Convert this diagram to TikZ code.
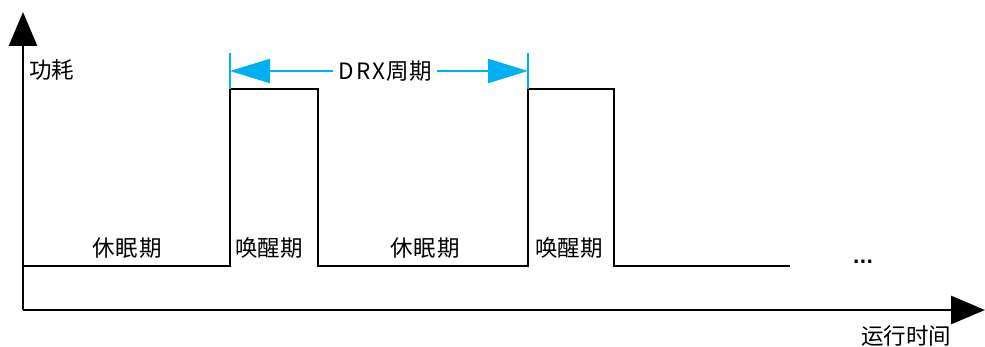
\documentclass[tikz,border=0pt]{standalone}
\usepackage{fontspec}
\setmainfont{Noto Sans CJK SC}
\newfontfamily\dvfont{DejaVu Sans}
\usetikzlibrary{arrows.meta}
\definecolor{drxblue}{HTML}{00B0F0}
\begin{document}
\begin{tikzpicture}[x=1pt,y=-1pt,
  sig/.style={line width=2.8pt,line join=miter},
  axis/.style={line width=2.8pt,-{Triangle[length=34pt,width=28pt]}},
  dim/.style={drxblue,line width=2.4pt},
  dimarrow/.style={drxblue,line width=2.4pt,-{Triangle[length=40pt,width=24pt]}},
  lbl/.style={font=\fontsize{22.5}{24}\selectfont,inner sep=0pt}]
\useasboundingbox (0,0) rectangle (985,347);
\coordinate (o) at (23,310);
\coordinate (ytip) at (23,12);
\coordinate (xtip) at (985,310);
\draw[axis] (o) -- (ytip);
\draw[axis] (o) -- (xtip);
\draw[sig] (23,266) -- (230,266) -- (230,89) -- (318,89) -- (318,266) -- (528,266) -- (528,89) -- (614,89) -- (614,266) -- (790,266);
\coordinate (t1a) at (230,53);
\coordinate (t1b) at (230,89);
\coordinate (t2a) at (528,53);
\coordinate (t2b) at (528,89);
\draw[dim] (t1a) -- (t1b);
\draw[dim] (t2a) -- (t2b);
\node[lbl] (drx) at (385,71) {D\hspace{2.5pt}R\hspace{2.5pt}X\hspace{1pt}周期};
\coordinate (al) at (230,71);
\coordinate (ar) at (528,71);
\draw[dimarrow] (drx.west) ++(-5,0) -- (al);
\draw[dimarrow] (drx.east) ++(5,0) -- (ar);
\node[lbl,anchor=west] (pw) at (29,70) {功耗};
\node[lbl] (s1) at (127,248) {休\hspace{1pt}眠\hspace{1pt}期};
\node[lbl] (w1) at (269,248) {唤醒期};
\node[lbl] (s2) at (425,248) {休\hspace{1pt}眠\hspace{1pt}期};
\node[lbl] (w2) at (569,248) {唤醒期};
\node[lbl,font=\dvfont\bfseries\fontsize{18}{20}\selectfont] (dots) at (863,262) {...};
\node[lbl] (rt) at (906,336) {运行时间};
\end{tikzpicture}
\end{document}
